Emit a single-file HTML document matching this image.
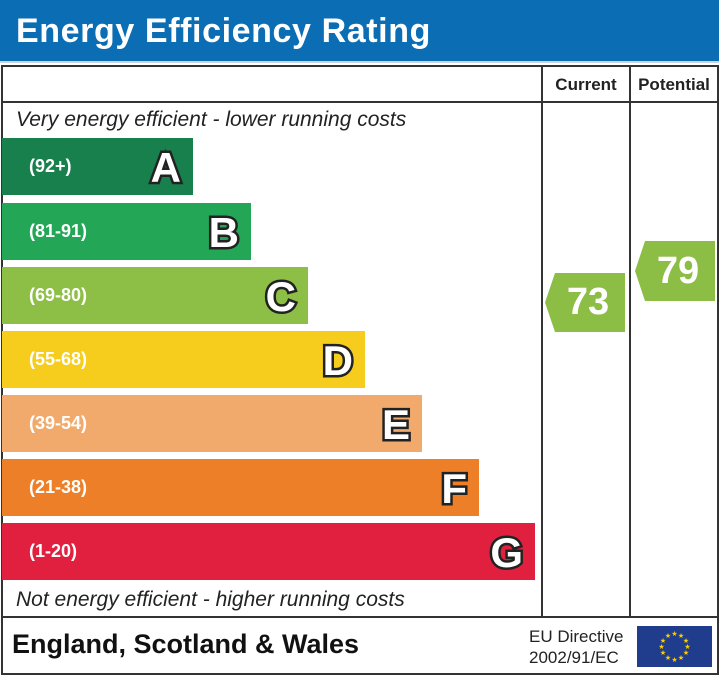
<!DOCTYPE html>
<html><head><style>
body{margin:0;width:719px;height:675px;background:#fff;position:relative;overflow:hidden;font-family:"Liberation Sans",sans-serif}
.a{position:absolute}
.hdr{left:0;top:0;width:719px;height:61px;background:#0b6db3;color:#fff;font-weight:bold;font-size:34px;letter-spacing:0.6px;line-height:62px;padding-left:16px;box-sizing:border-box}
.bar{position:absolute;left:2px;height:57px}
.bar .r{position:absolute;left:27px;top:0;line-height:57px;color:#fff;font-weight:bold;font-size:18px}
.bar .l{position:absolute;right:12px;top:1px;line-height:57px;color:#fff;font-weight:bold;font-size:42px;-webkit-text-stroke:5px #222;paint-order:stroke fill}
.it{font-style:italic;font-size:21px;color:#222}
.arr{position:absolute;background:#8cbd45;color:#fff;font-weight:bold;font-size:38px;clip-path:polygon(10px 0,100% 0,100% 100%,10px 100%,0 50%);text-align:center;padding-left:6px;box-sizing:border-box}
</style></head><body>
<div class="a hdr">Energy Efficiency Rating</div>
<div class="a" style="left:0;top:61px;width:719px;height:2px;background:#c9d6e2"></div>
<div class="a" style="left:1px;top:65px;width:714px;height:606px;border:2px solid #333"></div>
<div class="a" style="left:1px;top:101px;width:716px;height:2px;background:#333"></div>
<div class="a" style="left:1px;top:616px;width:716px;height:2px;background:#333"></div>
<div class="a" style="left:541px;top:65px;width:2px;height:552px;background:#333"></div>
<div class="a" style="left:629px;top:65px;width:2px;height:552px;background:#333"></div>
<div class="a" style="left:543px;top:75px;width:86px;text-align:center;font-weight:bold;font-size:17px;color:#222">Current</div>
<div class="a" style="left:631px;top:75px;width:86px;text-align:center;font-weight:bold;font-size:17px;color:#222">Potential</div>
<div class="a it" style="left:16px;top:108px">Very energy efficient - lower running costs</div>
<div class="bar" style="top:138px;width:191px;background:#17804d"><span class="r">(92+)</span><span class="l">A</span></div>
<div class="bar" style="top:203px;width:249px;background:#23a655"><span class="r">(81-91)</span><span class="l">B</span></div>
<div class="bar" style="top:267px;width:306px;background:#8dbe45"><span class="r">(69-80)</span><span class="l">C</span></div>
<div class="bar" style="top:331px;width:363px;background:#f6cd1c"><span class="r">(55-68)</span><span class="l">D</span></div>
<div class="bar" style="top:395px;width:420px;background:#f1aa6b"><span class="r">(39-54)</span><span class="l">E</span></div>
<div class="bar" style="top:459px;width:477px;background:#ec7f28"><span class="r">(21-38)</span><span class="l">F</span></div>
<div class="bar" style="top:523px;width:533px;background:#e0203e"><span class="r">(1-20)</span><span class="l">G</span></div>
<div class="a it" style="left:16px;top:588px">Not energy efficient - higher running costs</div>
<div class="arr" style="left:545px;top:273px;width:80px;height:59px;line-height:59px">73</div>
<div class="arr" style="left:635px;top:241px;width:80px;height:60px;line-height:60px">79</div>
<div class="a" style="left:12px;top:629px;font-weight:bold;font-size:27px;color:#111">England, Scotland &amp; Wales</div>
<div class="a" style="left:529px;top:626px;font-size:17px;color:#222;line-height:21px">EU Directive<br>2002/91/EC</div>
<svg class="a" style="left:637px;top:626px" width="75" height="41"><rect width="75" height="41" fill="#1f3d8c"/>
<g fill="#fc0" font-size="7" text-anchor="middle" font-family="DejaVu Sans">
<text x="37.5" y="10">★</text><text x="44" y="12">★</text><text x="49" y="17">★</text><text x="50.5" y="23">★</text><text x="49" y="29">★</text><text x="44" y="34">★</text><text x="37.5" y="36">★</text><text x="31" y="34">★</text><text x="26" y="29">★</text><text x="24.5" y="23">★</text><text x="26" y="17">★</text><text x="31" y="12">★</text></g></svg>
</body></html>
